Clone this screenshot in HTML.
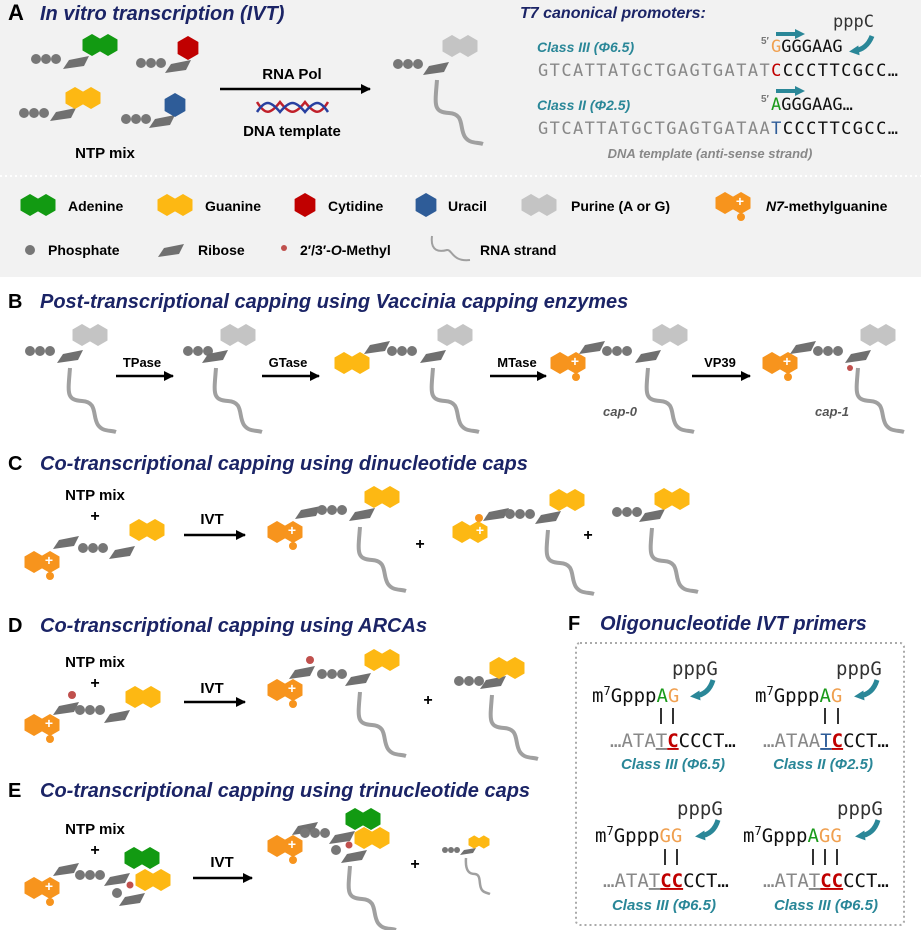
<!DOCTYPE html>
<html><head><meta charset="utf-8"><style>
body{margin:0;background:#fff}
svg{display:block}
.t{font-family:"Liberation Sans",sans-serif;font-weight:bold}
.ti{font-family:"Liberation Sans",sans-serif;font-weight:bold;font-style:italic;fill:#1b2466}
.cl{font-family:"Liberation Sans",sans-serif;font-weight:bold;font-style:italic;fill:#2a8798}
.m{font-family:"DejaVu Sans Mono",monospace}
</style></head><body>
<svg width="921" height="930" viewBox="0 0 921 930" xmlns="http://www.w3.org/2000/svg">
<defs>
<g id="pur"><polygon points="-8,-11 1.5,-5.5 1.5,5.5 -8,11 -17.5,5.5 -17.5,-5.5"/><polygon points="8,-11 17.5,-5.5 17.5,5.5 8,11 -1.5,5.5 -1.5,-5.5"/><rect x="-9" y="-5.5" width="18" height="11"/></g>
<polygon id="hex" points="0,-12 10.4,-6 10.4,6 0,12 -10.4,6 -10.4,-6"/>
<polygon id="rib" points="-13,6 -7,-3 13,-7 8,3" fill="#707070"/>
<g id="p3" fill="#777"><circle cx="0" cy="0" r="5"/><circle cx="10" cy="0" r="5"/><circle cx="20" cy="0" r="5"/></g>
<path id="str" d="M0,0 C-2,25 -4,32 12,33 C28,34 22,48 28,57 C33,64 40,62 46,64" fill="none" stroke="#a0a0a0" stroke-width="4"/>
<g id="m7g"><use href="#pur" fill="#f7941d"/><text x="7" y="3" font-family="Liberation Sans" font-weight="bold" font-size="14" fill="#fff" text-anchor="middle">+</text><circle cx="8" cy="14" r="4" fill="#f7941d"/></g>
<marker id="ah" markerWidth="10" markerHeight="10" refX="9" refY="5" orient="auto" markerUnits="userSpaceOnUse"><path d="M0,0 L10,5 L0,10 z" fill="#000"/></marker>
<marker id="tah" markerWidth="10" markerHeight="10" refX="5" refY="5" orient="auto" markerUnits="userSpaceOnUse"><path d="M0,0 L10,5 L0,10 z" fill="#2a8798"/></marker>
</defs>

<!-- Panel A -->
<rect x="0" y="0" width="921" height="277" fill="#f2f2f2"/>
<line x1="0" y1="176" x2="921" y2="176" stroke="#fff" stroke-width="2" stroke-dasharray="2,3"/>
<text x="8" y="20" class="t" font-size="22">A</text>
<text x="40" y="20" class="ti" font-size="20">In vitro transcription (IVT)</text>

<use href="#p3" x="36" y="59"/><use href="#rib" x="76" y="63"/><use href="#pur" x="100" y="45" fill="#129a12"/>
<use href="#p3" x="141" y="63"/><use href="#rib" x="178" y="67"/><use href="#hex" x="188" y="48" fill="#c00000"/>
<use href="#p3" x="24" y="113"/><use href="#rib" x="63" y="115"/><use href="#pur" x="83" y="98" fill="#fdb813"/>
<use href="#p3" x="126" y="119"/><use href="#rib" x="162" y="122"/><use href="#hex" x="175" y="105" fill="#2e5c98"/>
<text x="105" y="158" class="t" font-size="15" text-anchor="middle">NTP mix</text>

<line x1="220" y1="89" x2="370" y2="89" stroke="#000" stroke-width="2.5" marker-end="url(#ah)"/>
<text x="292" y="79" class="t" font-size="15" text-anchor="middle">RNA Pol</text>
<path d="M257,102 C265,115 270,115 280,102 C290,115 295,115 305,102 C315,115 320,115 328,102" fill="none" stroke="#c0202a" stroke-width="2.5"/>
<path d="M257,112 C265,100 270,100 280,112 C290,100 295,100 305,112 C315,100 320,100 328,112" fill="none" stroke="#2840a0" stroke-width="2.5"/>
<text x="292" y="136" class="t" font-size="15" text-anchor="middle">DNA template</text>

<use href="#p3" x="398" y="64"/><use href="#rib" x="436" y="69"/><use href="#pur" x="460" y="46" fill="#c4c4c4"/>
<use href="#str" x="437" y="80"/>

<text x="520" y="18" class="ti" font-size="16">T7 canonical promoters:</text>
<text x="537" y="52" class="cl" font-size="14">Class III (Φ6.5)</text>
<text x="538" y="76" class="m" font-size="17" textLength="360" lengthAdjust="spacing" fill="#888">GTCATTATGCTGAGTGATAT<tspan fill="#c00000">C</tspan><tspan fill="#111">CCCTTCGCC…</tspan></text>
<text x="761" y="44" class="t" font-size="10" fill="#777">5′</text>
<text x="771" y="52" class="m" font-size="17" fill="#111"><tspan fill="#f0a050">G</tspan>GGGAAG</text>
<line x1="776" y1="34" x2="800" y2="34" stroke="#2a8798" stroke-width="4" marker-end="url(#tah)"/>
<text x="833" y="27" class="m" font-size="17" fill="#333">pppC</text>
<path d="M872,36 C868,46 862,50 854,51" fill="none" stroke="#2a8798" stroke-width="5" marker-end="url(#tah)"/>

<text x="537" y="110" class="cl" font-size="14">Class II (Φ2.5)</text>
<text x="538" y="134" class="m" font-size="17" textLength="360" lengthAdjust="spacing" fill="#888">GTCATTATGCTGAGTGATAA<tspan fill="#2e5c98">T</tspan><tspan fill="#111">CCCTTCGCC…</tspan></text>
<text x="761" y="102" class="t" font-size="10" fill="#777">5′</text>
<text x="771" y="110" class="m" font-size="17" fill="#111"><tspan fill="#1a9a1a">A</tspan>GGGAAG…</text>
<line x1="776" y1="91" x2="800" y2="91" stroke="#2a8798" stroke-width="4" marker-end="url(#tah)"/>
<text x="710" y="158" font-family="Liberation Sans" font-weight="bold" font-style="italic" font-size="13" fill="#888" text-anchor="middle">DNA template (anti-sense strand)</text>

<!-- legend -->
<use href="#pur" x="38" y="205" fill="#129a12"/><text x="68" y="211" class="t" font-size="14">Adenine</text>
<use href="#pur" x="175" y="205" fill="#fdb813"/><text x="205" y="211" class="t" font-size="14">Guanine</text>
<use href="#hex" x="305" y="205" fill="#c00000"/><text x="328" y="211" class="t" font-size="14">Cytidine</text>
<use href="#hex" x="426" y="205" fill="#2e5c98"/><text x="448" y="211" class="t" font-size="14">Uracil</text>
<use href="#pur" x="539" y="205" fill="#c4c4c4"/><text x="571" y="211" class="t" font-size="14">Purine (A or G)</text>
<use href="#m7g" x="733" y="203"/><text x="766" y="211" class="t" font-size="14"><tspan font-style="italic">N7</tspan>-methylguanine</text>
<circle cx="30" cy="250" r="5" fill="#777"/><text x="48" y="255" class="t" font-size="14">Phosphate</text>
<use href="#rib" x="171" y="251"/><text x="198" y="255" class="t" font-size="14">Ribose</text>
<circle cx="284" cy="248" r="3" fill="#c0504d"/><text x="300" y="255" class="t" font-size="14">2′/3′-<tspan font-style="italic">O</tspan>-Methyl</text>
<path d="M432,236 C430,252 440,252 447,250 C452,249 452,262 470,260" fill="none" stroke="#a0a0a0" stroke-width="2"/>
<text x="480" y="255" class="t" font-size="14">RNA strand</text>

<!-- Panel B -->
<text x="8" y="308" class="t" font-size="20">B</text>
<text x="40" y="308" class="ti" font-size="20">Post-transcriptional capping using Vaccinia capping enzymes</text>
<use href="#p3" x="30" y="351"/><use href="#rib" x="70" y="357"/><use href="#pur" x="90" y="335" fill="#c4c4c4"/><use href="#str" x="70" y="368"/>
<line x1="116" y1="376" x2="173" y2="376" stroke="#000" stroke-width="2.5" marker-end="url(#ah)"/><text x="142" y="367" class="t" font-size="13" text-anchor="middle">TPase</text>
<use href="#p3" x="188" y="351"/><use href="#rib" x="215" y="357"/><use href="#pur" x="238" y="335" fill="#c4c4c4"/><use href="#str" x="216" y="368"/>
<line x1="262" y1="376" x2="319" y2="376" stroke="#000" stroke-width="2.5" marker-end="url(#ah)"/><text x="288" y="367" class="t" font-size="13" text-anchor="middle">GTase</text>
<use href="#pur" x="352" y="363" fill="#fdb813"/><use href="#rib" x="377" y="348"/><use href="#p3" x="392" y="351"/><use href="#rib" x="433" y="357"/><use href="#pur" x="455" y="335" fill="#c4c4c4"/><use href="#str" x="433" y="368"/>
<line x1="490" y1="376" x2="546" y2="376" stroke="#000" stroke-width="2.5" marker-end="url(#ah)"/><text x="517" y="367" class="t" font-size="13" text-anchor="middle">MTase</text>
<use href="#m7g" x="568" y="363"/><use href="#rib" x="592" y="348"/><use href="#p3" x="607" y="351"/><use href="#rib" x="648" y="357"/><use href="#pur" x="670" y="335" fill="#c4c4c4"/><use href="#str" x="648" y="368"/>
<text x="620" y="416" font-family="Liberation Sans" font-weight="bold" font-style="italic" font-size="13" fill="#555" text-anchor="middle">cap-0</text>
<line x1="692" y1="376" x2="750" y2="376" stroke="#000" stroke-width="2.5" marker-end="url(#ah)"/><text x="720" y="367" class="t" font-size="13" text-anchor="middle">VP39</text>
<use href="#m7g" x="780" y="363"/><use href="#rib" x="803" y="348"/><use href="#p3" x="818" y="351"/><use href="#rib" x="858" y="357"/><circle cx="850" cy="368" r="3" fill="#c0504d"/><use href="#pur" x="878" y="335" fill="#c4c4c4"/><use href="#str" x="858" y="368"/>
<text x="832" y="416" font-family="Liberation Sans" font-weight="bold" font-style="italic" font-size="13" fill="#555" text-anchor="middle">cap-1</text>

<!-- Panel C -->
<text x="8" y="470" class="t" font-size="20">C</text>
<text x="40" y="470" class="ti" font-size="20">Co-transcriptional capping using dinucleotide caps</text>
<text x="95" y="500" class="t" font-size="15" text-anchor="middle">NTP mix</text><text x="95" y="521" class="t" font-size="16" text-anchor="middle">+</text>
<use href="#m7g" x="42" y="562"/><use href="#rib" x="66" y="543"/><use href="#p3" x="83" y="548"/><use href="#rib" x="122" y="553"/><use href="#pur" x="147" y="530" fill="#fdb813"/>
<line x1="184" y1="535" x2="245" y2="535" stroke="#000" stroke-width="2.5" marker-end="url(#ah)"/><text x="212" y="524" class="t" font-size="15" text-anchor="middle">IVT</text>
<use href="#m7g" x="285" y="532"/><use href="#rib" x="308" y="513"/><use href="#p3" x="322" y="510"/><use href="#rib" x="362" y="515"/><use href="#pur" x="382" y="497" fill="#fdb813"/><use href="#str" x="360" y="527"/>
<text x="420" y="549" class="t" font-size="16" text-anchor="middle">+</text>
<use href="#pur" x="470" y="532" fill="#fdb813"/><text x="480" y="535" class="t" font-size="14" fill="#fff" text-anchor="middle">+</text><circle cx="479" cy="518" r="4" fill="#f7941d"/>
<use href="#rib" x="496" y="515"/><use href="#p3" x="510" y="514"/><use href="#rib" x="548" y="518"/><use href="#pur" x="567" y="500" fill="#fdb813"/><use href="#str" x="548" y="530"/>
<text x="588" y="540" class="t" font-size="16" text-anchor="middle">+</text>
<use href="#p3" x="617" y="512"/><use href="#rib" x="652" y="516"/><use href="#pur" x="672" y="499" fill="#fdb813"/><use href="#str" x="652" y="528"/>

<!-- Panel D -->
<text x="8" y="632" class="t" font-size="20">D</text>
<text x="40" y="632" class="ti" font-size="20">Co-transcriptional capping using ARCAs</text>
<text x="95" y="667" class="t" font-size="15" text-anchor="middle">NTP mix</text><text x="95" y="688" class="t" font-size="16" text-anchor="middle">+</text>
<use href="#m7g" x="42" y="725"/><use href="#rib" x="66" y="709"/><circle cx="72" cy="695" r="4" fill="#c0504d"/><use href="#p3" x="80" y="710"/><use href="#rib" x="117" y="717"/><use href="#pur" x="143" y="697" fill="#fdb813"/>
<line x1="184" y1="702" x2="245" y2="702" stroke="#000" stroke-width="2.5" marker-end="url(#ah)"/><text x="212" y="693" class="t" font-size="15" text-anchor="middle">IVT</text>
<use href="#m7g" x="285" y="690"/><use href="#rib" x="302" y="673"/><circle cx="310" cy="660" r="4" fill="#c0504d"/><use href="#p3" x="322" y="674"/><use href="#rib" x="358" y="680"/><use href="#pur" x="382" y="660" fill="#fdb813"/><use href="#str" x="360" y="692"/>
<text x="428" y="705" class="t" font-size="16" text-anchor="middle">+</text>
<use href="#p3" x="459" y="681"/><use href="#rib" x="493" y="683"/><use href="#pur" x="507" y="668" fill="#fdb813"/><use href="#str" x="492" y="695"/>

<!-- Panel E -->
<text x="8" y="797" class="t" font-size="20">E</text>
<text x="40" y="797" class="ti" font-size="20">Co-transcriptional capping using trinucleotide caps</text>
<text x="95" y="834" class="t" font-size="15" text-anchor="middle">NTP mix</text><text x="95" y="855" class="t" font-size="16" text-anchor="middle">+</text>
<use href="#m7g" x="42" y="888"/><use href="#rib" x="66" y="870"/><use href="#p3" x="80" y="875"/><use href="#rib" x="117" y="880"/><use href="#pur" x="142" y="858" fill="#129a12"/><use href="#pur" x="153" y="880" fill="#fdb813"/><circle cx="130" cy="885" r="3.5" fill="#c0504d"/><circle cx="117" cy="893" r="5" fill="#777"/><use href="#rib" x="132" y="900"/>
<line x1="193" y1="878" x2="252" y2="878" stroke="#000" stroke-width="2.5" marker-end="url(#ah)"/><text x="222" y="867" class="t" font-size="15" text-anchor="middle">IVT</text>
<use href="#m7g" x="285" y="846"/><use href="#rib" x="305" y="829"/><use href="#p3" x="305" y="833"/><use href="#rib" x="342" y="838"/><use href="#pur" x="363" y="819" fill="#129a12"/><use href="#pur" x="372" y="838" fill="#fdb813"/><circle cx="349" cy="845" r="3.5" fill="#c0504d"/><circle cx="336" cy="850" r="5" fill="#777"/><use href="#rib" x="354" y="857"/><use href="#str" x="350" y="866"/>
<text x="415" y="869" class="t" font-size="16" text-anchor="middle">+</text>
<circle cx="445" cy="850" r="3" fill="#777"/><circle cx="451" cy="850" r="3" fill="#777"/><circle cx="457" cy="850" r="3" fill="#777"/>
<polygon points="460,855 464,850 476,848 473,853" fill="#707070"/>
<g transform="translate(479,842) scale(0.6)"><use href="#pur" fill="#fdb813"/></g>
<path d="M466,858 C465,872 470,874 475,874 C482,875 478,885 482,890 C484,893 488,893 490,894" fill="none" stroke="#a0a0a0" stroke-width="2.5"/>

<!-- Panel F -->
<text x="568" y="630" class="t" font-size="20">F</text>
<text x="600" y="630" class="ti" font-size="20">Oligonucleotide IVT primers</text>
<rect x="576" y="643" width="328" height="282" rx="4" fill="none" stroke="#aaa" stroke-width="2" stroke-dasharray="2,3"/>

<g class="m" font-size="19">
<!-- q1 -->
<text x="672" y="675" fill="#333">pppG</text>
<path d="M713,680 C710,690 704,695 695,696" fill="none" stroke="#2a8798" stroke-width="5" marker-end="url(#tah)"/>
<text x="592" y="702" fill="#111">m<tspan font-size="12" dy="-7">7</tspan><tspan dy="7">Gppp</tspan><tspan fill="#1a9a1a">A</tspan><tspan fill="#f0a050">G</tspan></text>
<line x1="661" y1="708" x2="661" y2="724" stroke="#333" stroke-width="2"/><line x1="673" y1="708" x2="673" y2="724" stroke="#333" stroke-width="2"/>
<text x="610" y="747" fill="#888">…ATA<tspan text-decoration="underline">T</tspan><tspan fill="#c00000" font-weight="bold" text-decoration="underline">C</tspan><tspan fill="#111">CCCT…</tspan></text>
<!-- q2 -->
<text x="836" y="675" fill="#333">pppG</text>
<path d="M877,680 C874,690 868,695 859,696" fill="none" stroke="#2a8798" stroke-width="5" marker-end="url(#tah)"/>
<text x="755" y="702" fill="#111">m<tspan font-size="12" dy="-7">7</tspan><tspan dy="7">Gppp</tspan><tspan fill="#1a9a1a">A</tspan><tspan fill="#f0a050">G</tspan></text>
<line x1="825" y1="708" x2="825" y2="724" stroke="#333" stroke-width="2"/><line x1="838" y1="708" x2="838" y2="724" stroke="#333" stroke-width="2"/>
<text x="763" y="747" fill="#888">…ATAA<tspan fill="#2e5c98" text-decoration="underline">T</tspan><tspan fill="#c00000" font-weight="bold" text-decoration="underline">C</tspan><tspan fill="#111">CCT…</tspan></text>
<!-- q3 -->
<text x="677" y="815" fill="#333">pppG</text>
<path d="M718,820 C715,830 709,835 700,836" fill="none" stroke="#2a8798" stroke-width="5" marker-end="url(#tah)"/>
<text x="595" y="842" fill="#111">m<tspan font-size="12" dy="-7">7</tspan><tspan dy="7">Gppp</tspan><tspan fill="#f0a050">GG</tspan></text>
<line x1="665" y1="849" x2="665" y2="865" stroke="#333" stroke-width="2"/><line x1="677" y1="849" x2="677" y2="865" stroke="#333" stroke-width="2"/>
<text x="603" y="887" fill="#888">…ATA<tspan text-decoration="underline">T</tspan><tspan fill="#c00000" font-weight="bold" text-decoration="underline">CC</tspan><tspan fill="#111">CCT…</tspan></text>
<!-- q4 -->
<text x="837" y="815" fill="#333">pppG</text>
<path d="M878,820 C875,830 869,835 860,836" fill="none" stroke="#2a8798" stroke-width="5" marker-end="url(#tah)"/>
<text x="743" y="842" fill="#111">m<tspan font-size="12" dy="-7">7</tspan><tspan dy="7">Gppp</tspan><tspan fill="#1a9a1a">A</tspan><tspan fill="#f0a050">GG</tspan></text>
<line x1="813" y1="849" x2="813" y2="865" stroke="#333" stroke-width="2"/><line x1="825" y1="849" x2="825" y2="865" stroke="#333" stroke-width="2"/><line x1="837" y1="849" x2="837" y2="865" stroke="#333" stroke-width="2"/>
<text x="763" y="887" fill="#888">…ATA<tspan text-decoration="underline">T</tspan><tspan fill="#c00000" font-weight="bold" text-decoration="underline">CC</tspan><tspan fill="#111">CCT…</tspan></text>
</g>
<text x="673" y="769" class="cl" font-size="15" text-anchor="middle">Class III (Φ6.5)</text>
<text x="823" y="769" class="cl" font-size="15" text-anchor="middle">Class II (Φ2.5)</text>
<text x="664" y="910" class="cl" font-size="15" text-anchor="middle">Class III (Φ6.5)</text>
<text x="826" y="910" class="cl" font-size="15" text-anchor="middle">Class III (Φ6.5)</text>
</svg>
</body></html>
